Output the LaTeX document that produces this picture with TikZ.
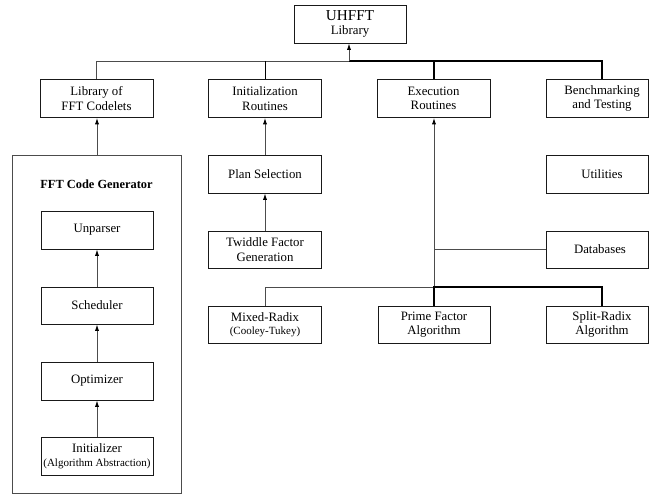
\documentclass[tikz,border=0pt]{standalone}
\usepackage{fontspec}
\setmainfont{Liberation Serif}
\usetikzlibrary{arrows.meta}
\begin{document}
\begin{tikzpicture}[x=1pt,y=-1pt,
  box/.style={draw=black!90, line width=0.9pt, minimum width=113pt, minimum height=38pt,
    inner sep=0pt, align=center, font=\fontsize{12.8}{14.5}\selectfont},
  rbox/.style={box, minimum width=102pt},
  thinln/.style={draw=black!70, line width=0.9pt},
  midln/.style={draw=black, line width=1pt},
  thickln/.style={draw=black, line width=1.5pt},
  arr/.style={-{Latex[length=6.5pt,width=4.2pt,fill=black,color=black]}}
]
\useasboundingbox (0,0) rectangle (649,495);
% top
\node[box, minimum width=112pt] (uhfft) at (350,24) {{\fontsize{15.2}{15}\selectfont UHFFT}\\[-1pt]Library};
% second row
\node[box] (codelets) at (96.5,98.5) {Library of\\FFT Codelets};
\node[box] (init) at (265,98.5) {Initialization\\Routines};
\node[box] (exec) at (433.5,98.5) {Execution\\Routines};
\node[rbox] (bench) at (597,98.5) {\hspace*{10pt}Benchmarking\\\hspace*{10pt}and Testing};
% generator
\node[draw=black!70, line width=0.9pt, minimum width=169pt, minimum height=338pt, inner sep=0pt] (gen) at (96.5,324) {};
\node[font=\fontsize{12.4}{14}\selectfont\bfseries] (gentitle) at (96.5,184) {FFT Code Generator};
\node[box, minimum width=112pt] (unparser) at (97,230) {Unparser};
\node[box, minimum width=112pt, minimum height=37pt] (scheduler) at (97,305.5) {Scheduler};
\node[box, minimum width=112pt] (optimizer) at (97,381) {Optimizer};
\node[box, minimum width=112pt] (initializer) at (97,456) {Initializer\\[-1pt]{\fontsize{11}{12}\selectfont(Algorithm Abstraction)}};
% init column
\node[box] (plan) at (265,174) {Plan Selection};
\node[box, minimum height=37pt] (twiddle) at (265,249.5) {Twiddle Factor\\Generation};
% algorithms
\node[box, minimum height=37pt] (mixed) at (265,324.5) {Mixed-Radix\\[-1pt]{\fontsize{11}{12}\selectfont(Cooley-Tukey)}};
\node[box, minimum width=112pt, minimum height=37pt] (prime) at (434,324.5) {Prime Factor\\Algorithm};
\node[rbox, minimum height=37pt] (split) at (597,324.5) {\hspace*{10pt}Split-Radix\\\hspace*{10pt}Algorithm};
% right column
\node[rbox] (util) at (597,174) {\hspace*{10pt}Utilities};
\node[rbox, minimum height=37pt] (db) at (597,249.5) {\hspace*{6pt}Databases};
% bus coordinates
\coordinate (tb) at (349,61);
\coordinate (bb) at (434,287);
% top bus
\draw[thinln] (codelets.north) |- (tb);
\draw[thickln] (tb) -| (bench.north -| 602,0);
\draw[thickln] (exec.north -| 434,0) -- (434,61);
\draw[midln] (init.north) -- (265,61);
\draw[thinln, arr] (tb) -- (uhfft.south -| tb);
% upward arrows
\draw[thinln, arr] (gen.north -| 97,0) -- (codelets.south -| 97,0);
\draw[thinln, arr] (unparser.south |- scheduler.north) -- (unparser.south);
\draw[thinln, arr] (optimizer.north) -- (scheduler.south);
\draw[thinln, arr] (initializer.north) -- (optimizer.south);
\draw[thinln, arr] (twiddle.north) -- (plan.south);
\draw[thinln, arr] (init.south |- plan.north) -- (init.south);
\draw[thinln, arr] (bb) -- (exec.south -| bb);
% databases
\draw[thinln] (db.west) -- (db.west -| bb);
% bottom bus
\draw[thinln] (mixed.north) |- (bb);
\draw[thickln] (prime.north) -- (bb) -| (split.north -| 602,0);
\end{tikzpicture}
\end{document}
